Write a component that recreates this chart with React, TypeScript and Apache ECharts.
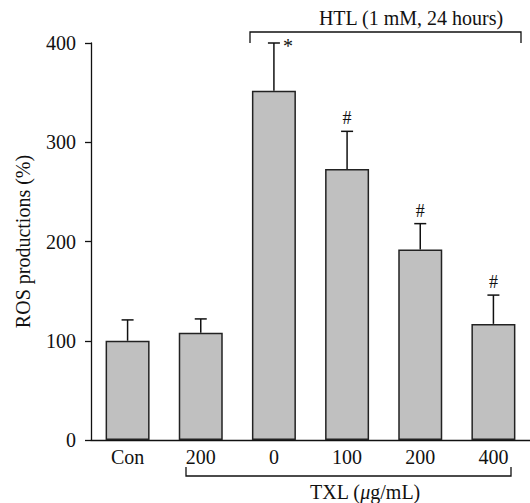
import React, { useEffect, useRef } from "react";
import * as echarts from "echarts";

const categories = ["Con", "200", "0", "100", "200", "400"];
const means = [100, 108, 352, 273, 192, 117];
const errorTops = [121, 122, 400, 311, 218, 146];
const marks = ["", "", "*", "#", "#", "#"];
const yTicks = [0, 100, 200, 300, 400];

const FONT = "'Liberation Serif', 'Times New Roman', serif";

export default function App() {
  const ref = useRef<HTMLDivElement>(null);
  useEffect(() => {
    if (!ref.current) return;
    const chart = echarts.init(ref.current, null, { renderer: "svg" });
    const errData = categories.map((_, i) => [i, means[i], errorTops[i], marks[i]]);
    chart.setOption({
      animation: false,
      backgroundColor: "#ffffff",
      textStyle: { fontFamily: FONT },
      grid: { left: 91, right: -5, top: 43, bottom: 63, containLabel: false },
      xAxis: {
        type: "category",
        data: categories,
        axisLine: { lineStyle: { color: "#111", width: 1.3 } },
        axisTick: { show: false },
        axisLabel: { color: "#111", fontSize: 20, fontFamily: FONT, margin: 7 },
      },
      yAxis: {
        type: "value",
        min: yTicks[0],
        max: yTicks[yTicks.length - 1],
        interval: 100,
        name: "ROS productions (%)",
        nameLocation: "middle",
        nameGap: 58,
        nameTextStyle: { color: "#111", fontSize: 20, fontFamily: FONT },
        axisLine: { show: true, lineStyle: { color: "#111", width: 1.3 } },
        axisTick: { show: true, length: 6, lineStyle: { color: "#111", width: 1.3 } },
        axisLabel: { color: "#111", fontSize: 20, fontFamily: FONT, margin: 15 },
        splitLine: { show: false },
      },
      series: [
        {
          type: "bar",
          data: means,
          barWidth: 44,
          itemStyle: { color: "#c0c0c0", borderColor: "#222", borderWidth: 1.5 },
          z: 2,
        },
        {
          type: "custom",
          data: errData,
          z: 3,
          renderItem: (params: any, api: any) => {
            const i = api.value(0);
            const base = api.coord([i, api.value(1)]);
            const top = api.coord([i, api.value(2)]);
            const mark = marks[params.dataIndex];
            const children: any[] = [
              {
                type: "line",
                shape: { x1: base[0], y1: base[1], x2: top[0], y2: top[1] },
                style: { stroke: "#111", lineWidth: 1.5 },
              },
              {
                type: "line",
                shape: { x1: top[0] - 6, y1: top[1], x2: top[0] + 6, y2: top[1] },
                style: { stroke: "#111", lineWidth: 1.5 },
              },
            ];
            if (mark === "*") {
              children.push({
                type: "text",
                style: {
                  text: mark,
                  x: top[0] + 9,
                  y: top[1] - 7,
                  fontSize: 20,
                  fontFamily: FONT,
                  fill: "#111",
                  textAlign: "left",
                  textVerticalAlign: "top",
                },
              });
            } else if (mark) {
              children.push({
                type: "text",
                style: {
                  text: mark,
                  x: top[0],
                  y: top[1] - 4,
                  fontSize: 18,
                  fontFamily: FONT,
                  fill: "#111",
                  textAlign: "center",
                  textVerticalAlign: "bottom",
                },
              });
            }
            return { type: "group", children };
          },
        },
      ],
      graphic: [
        {
          type: "polyline",
          shape: { points: [[250, 43], [250, 32], [521, 32], [521, 43]] },
          style: { stroke: "#111", lineWidth: 1.3, fill: "none" },
        },
        {
          type: "text",
          style: {
            text: "HTL (1 mM, 24 hours)",
            x: 411,
            y: 18,
            fontSize: 20,
            fontFamily: FONT,
            fill: "#111",
            textAlign: "center",
            textVerticalAlign: "middle",
          },
        },
        {
          type: "polyline",
          shape: { points: [[186, 467], [186, 476], [511, 476], [511, 467]] },
          style: { stroke: "#111", lineWidth: 1.3, fill: "none" },
        },
        {
          type: "text",
          style: {
            text: "TXL ({i|μ}g/mL)",
            x: 365,
            y: 492,
            fontSize: 20,
            fontFamily: FONT,
            fill: "#111",
            textAlign: "center",
            textVerticalAlign: "middle",
            rich: {
              i: { fontStyle: "italic", fontSize: 20, fontFamily: FONT, fill: "#111" },
            },
          },
        },
      ],
    });
    return () => chart.dispose();
  }, []);
  return (
    <div
      ref={ref}
      style={{ position: "fixed", left: 0, top: 0, width: 530, height: 503 }}
    />
  );
}
